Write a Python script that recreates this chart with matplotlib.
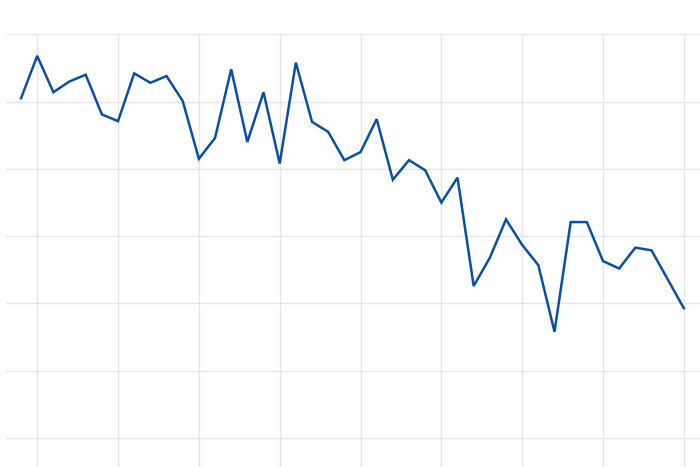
import matplotlib
matplotlib.use("Agg")
import matplotlib.pyplot as plt

idx = list(range(42))
values = [50.5, 56.8, 51.4, 53.0, 54.0, 48.1, 47.1, 54.2, 52.8, 53.8,
          50.1, 41.5, 44.6, 54.8, 44.0, 51.4, 40.8, 55.8, 47.0, 45.5,
          41.3, 42.5, 47.4, 38.4, 41.3, 39.8, 35.0, 38.7, 22.6, 26.8,
          32.5, 28.7, 25.7, 15.8, 32.1, 32.1, 26.3, 25.2, 28.3, 27.9,
          23.6, 19.3]
x_ticks = [1, 6, 11, 16, 21, 26, 31, 36, 41]
y_ticks = [0, 10, 20, 30, 40, 50, 60]

fig = plt.figure(figsize=(7, 4.67), dpi=100)
ax = fig.add_axes([6/700, 0, 694/700, 433/467])
ax.plot(idx, values, color="#0b50a0", lw=1.8, solid_joinstyle="miter", zorder=3)
ax.set_xlim(-0.93, 42.0)
ax.set_ylim(-4.3, 60.05)
ax.set_xticks(x_ticks)
ax.set_yticks(y_ticks)
ax.grid(True, color="#e6e6e6", lw=1.0)
ax.tick_params(length=0, labelbottom=False, labelleft=False)
for s in ax.spines.values():
    s.set_visible(False)
fig.savefig("out.png", dpi=100)
